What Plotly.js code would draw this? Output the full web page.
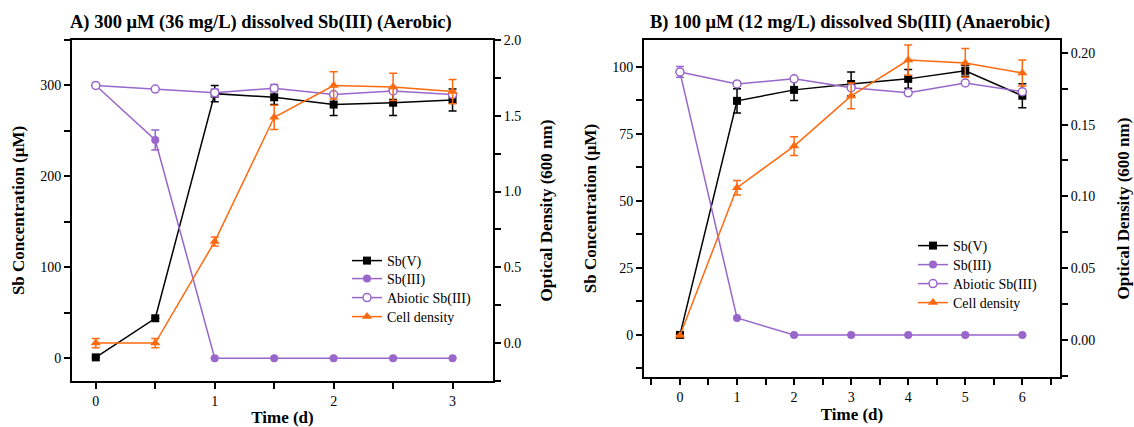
<!DOCTYPE html>
<html>
<head>
<meta charset="utf-8">
<script src="https://cdn.plot.ly/plotly-3.0.1.min.js"></script>
<style>html,body{margin:0;padding:0;background:#fff;}#chart{width:1134px;height:427px;}</style>
</head>
<body>
<div id="chart"></div>
<script>
// ---- Panel A: 300 µM, aerobic ----
const timeA = [0, 0.5, 1, 1.5, 2, 2.5, 3];
const sbVA = [1, 44, 291, 287, 279, 281, 284];
const sbVAErr = [0, 0, 9, 8, 12, 14, 12];
const sbIIIA = [300, 240, 0, 0, 0, 0, 0];
const sbIIIAErr = [0, 11, 0, 0, 0, 0, 0];
const abioticA = [300, 296, 292, 297, 290, 294, 290];
const abioticAErr = [0, 0, 4, 4, 0, 0, 0];
const cellA = [0.0, 0.0, 0.67, 1.49, 1.70, 1.69, 1.66];
const cellAErr = [0.03, 0.03, 0.03, 0.08, 0.09, 0.09, 0.08];

// ---- Panel B: 100 µM, anaerobic ----
const timeB = [0, 1, 2, 3, 4, 5, 6];
const sbVB = [0, 87.3, 91.4, 93.6, 95.5, 98.5, 89.2];
const sbVBErr = [0, 4.5, 4, 4.5, 3.5, 2, 4.5];
const sbIIIB = [98, 6.3, 0, 0, 0, 0, 0];
const sbIIIBErr = [0, 0, 0, 0, 0, 0, 0];
const abioticB = [98.1, 93.6, 95.5, 92.2, 90.3, 94, 90.7];
const abioticBErr = [2, 0, 0, 0, 0, 0, 0];
const cellB = [0.003, 0.106, 0.135, 0.170, 0.195, 0.193, 0.186];
const cellBErr = [0, 0.005, 0.0066, 0.009, 0.0105, 0.01, 0.009];

const seriesNames = ['Sb(V)', 'Sb(III)', 'Abiotic Sb(III)', 'Cell density'];
const titleA = 'A) 300 μM (36 mg/L) dissolved Sb(III) (Aerobic)';
const titleB = 'B) 100 μM (12 mg/L) dissolved Sb(III) (Anaerobic)';

const BLACK = '#000000', PURPLE = '#9966cc', ORANGE = '#ff6a10';
const FONT = '"Liberation Serif", "Times New Roman", serif';
const W = 1134, H = 427;

function err(arr, color) {
  return {type: 'data', array: arr, visible: true, color: color, thickness: 1.5, width: 4};
}
function mk(x, y, e, name, color, marker, xa, ya, legend) {
  return {
    x: x, y: y, name: name, type: 'scatter', mode: 'lines+markers',
    xaxis: xa, yaxis: ya, legend: legend,
    line: {color: color, width: 1.5},
    marker: marker,
    error_y: err(e, color),
    cliponaxis: false
  };
}
const mSq = {symbol: 'square', size: 8, color: BLACK};
const mCi = {symbol: 'circle', size: 8, color: PURPLE};
const mOp = {symbol: 'circle', size: 8, color: '#ffffff', line: {color: PURPLE, width: 1.5}};
const mTr = {symbol: 'triangle-up', size: 9, color: ORANGE};

const data = [
  mk(timeA, sbVA, sbVAErr, seriesNames[0], BLACK, mSq, 'x', 'y', 'legend'),
  mk(timeA, sbIIIA, sbIIIAErr, seriesNames[1], PURPLE, mCi, 'x', 'y', 'legend2'),
  mk(timeA, abioticA, abioticAErr, seriesNames[2], PURPLE, mOp, 'x', 'y', 'legend3'),
  mk(timeA, cellA, cellAErr, seriesNames[3], ORANGE, mTr, 'x', 'y2', 'legend4'),
  mk(timeB, sbVB, sbVBErr, seriesNames[0], BLACK, mSq, 'x2', 'y3', 'legend5'),
  mk(timeB, sbIIIB, sbIIIBErr, seriesNames[1], PURPLE, mCi, 'x2', 'y3', 'legend6'),
  mk(timeB, abioticB, abioticBErr, seriesNames[2], PURPLE, mOp, 'x2', 'y3', 'legend7'),
  mk(timeB, cellB, cellBErr, seriesNames[3], ORANGE, mTr, 'x2', 'y4', 'legend8')
];

const tickFont = {family: FONT, size: 14, color: '#000'};
const titleFont = {family: FONT, size: 17, color: '#000'};
function axisBase(extra) {
  return Object.assign({
    showline: true, linewidth: 2, linecolor: '#000',
    ticks: 'outside', ticklen: 6, tickwidth: 2, tickcolor: '#000',
    showgrid: false, zeroline: false, automargin: false,
    tickfont: tickFont, fixedrange: true
  }, extra);
}
function minor(d) {
  return {dtick: d, ticks: 'outside', ticklen: 6, tickwidth: 2, tickcolor: '#000', showgrid: false};
}
function leg(xPx, yPx) {
  return {x: xPx / W, y: 1 - yPx / H, xanchor: 'left', yanchor: 'middle',
    bgcolor: 'rgba(0,0,0,0)', borderwidth: 0,
    font: {family: FONT, size: 14, color: '#000'}};
}

const layout = {
  width: W, height: H,
  margin: {l: 0, r: 0, t: 0, b: 0},
  paper_bgcolor: '#fff', plot_bgcolor: '#fff',
  font: {family: FONT, color: '#000'},
  showlegend: true,
  xaxis: axisBase({domain: [72 / W, 493 / W], anchor: 'y', range: [-0.2, 3.34],
    tick0: 0, dtick: 1, minor: minor(0.5), mirror: true,
    title: {text: '<b>Time (d)</b>', font: titleFont, standoff: 3}}),
  yaxis: axisBase({domain: [1 - 381 / H, 1 - 40 / H], anchor: 'x', range: [-25, 350],
    tick0: 0, dtick: 100, minor: minor(50),
    title: {text: '<b>Sb Concentration (μM)</b>', font: titleFont, standoff: 11}}),
  yaxis2: axisBase({overlaying: 'y', side: 'right', anchor: 'x', range: [-0.25, 2.0],
    tick0: 0, dtick: 0.5, minor: minor(0.25), tickformat: '.1f',
    title: {text: '<b>Optical Density (600 nm)</b>', font: titleFont, standoff: 20}}),
  xaxis2: axisBase({domain: [644 / W, 1060 / W], anchor: 'y3', range: [-0.63, 6.66],
    tick0: 0, dtick: 1, minor: minor(0.5), mirror: true,
    title: {text: '<b>Time (d)</b>', font: titleFont, standoff: 3}}),
  yaxis3: axisBase({domain: [1 - 377 / H, 1 - 40 / H], anchor: 'x2', range: [-15.7, 110],
    tick0: 0, dtick: 25, minor: minor(12.5),
    title: {text: '<b>Sb Concentration (μM)</b>', font: titleFont, standoff: 11}}),
  yaxis4: axisBase({overlaying: 'y3', side: 'right', anchor: 'x2', range: [-0.026, 0.209],
    tick0: 0, dtick: 0.05, minor: minor(0.025), tickformat: '.2f',
    title: {text: '<b>Optical Density (600 nm)</b>', font: titleFont, standoff: 23}}),
  legend: leg(347, 261),
  legend2: leg(347, 279),
  legend3: leg(347, 298),
  legend4: leg(347, 317),
  legend5: leg(913, 246),
  legend6: leg(913, 265),
  legend7: leg(913, 284),
  legend8: leg(913, 303),
  annotations: [
    {text: '<b>' + titleA + '</b>', xref: 'paper', yref: 'paper', x: 68 / W, y: 1 - 22 / H,
      xanchor: 'left', yanchor: 'middle', showarrow: false, font: {family: FONT, size: 18.5, color: '#000'}},
    {text: '<b>' + titleB + '</b>', xref: 'paper', yref: 'paper', x: 648 / W, y: 1 - 22 / H,
      xanchor: 'left', yanchor: 'middle', showarrow: false, font: {family: FONT, size: 18.5, color: '#000'}}
  ]
};

Plotly.newPlot('chart', data, layout, {staticPlot: true, displayModeBar: false});
</script>
</body>
</html>
